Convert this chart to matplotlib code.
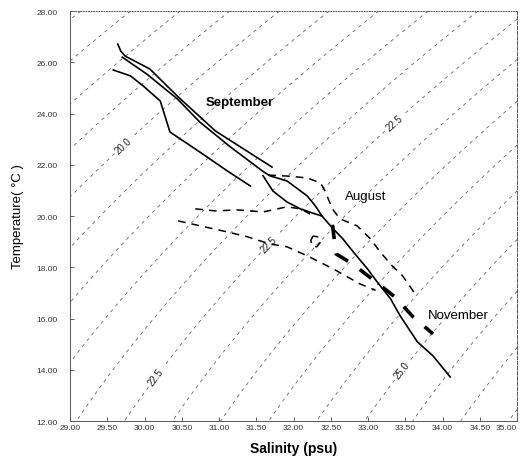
import numpy as np
import matplotlib.pyplot as plt

plt.rcParams['font.family'] = ['Liberation Sans', 'DejaVu Sans']

# September (solid lines)
sep1_s = [29.64, 29.68, 29.74, 30.07, 30.45, 30.95, 31.71]
sep1_t = [26.71, 26.44, 26.24, 25.74, 24.65, 23.32, 21.91]

sep2_s = [29.70, 30.03, 30.44, 30.74, 31.15, 31.58, 31.68, 31.91, 32.18,
          32.29, 32.38, 32.53, 32.66, 32.80, 32.99, 33.12, 33.30, 33.43,
          33.66, 33.87, 34.10]
sep2_t = [26.20, 25.54, 24.57, 23.67, 22.70, 21.76, 21.57, 21.37, 20.79,
          20.40, 20.00, 19.50, 19.11, 18.60, 17.94, 17.43, 16.77, 16.10,
          15.09, 14.54, 13.72]

sep2b_s = [31.59, 31.72, 31.91, 32.09, 32.25, 32.38]
sep2b_t = [21.57, 20.98, 20.55, 20.28, 20.12, 20.00]

sep3_s = [29.58, 29.81, 29.98, 30.21, 30.34, 30.74, 31.11, 31.42]
sep3_t = [25.70, 25.47, 25.08, 24.49, 23.28, 22.50, 21.76, 21.17]

# August (dashed lines)
aug1_s = [31.66, 31.91, 32.18, 32.36, 32.42, 32.52, 32.62, 32.85, 33.03,
          33.16, 33.32, 33.46, 33.64]
aug1_t = [21.60, 21.56, 21.49, 21.29, 20.98, 20.28, 19.89, 19.62, 19.11,
          18.60, 18.06, 17.67, 16.92]

aug2_s = [30.68, 30.95, 31.24, 31.59, 31.91, 32.09, 32.22]
aug2_t = [20.28, 20.20, 20.24, 20.16, 20.36, 20.28, 20.08]

aug3_s = [30.45, 30.74, 31.11, 31.38, 31.68, 31.91, 32.18, 32.53, 32.89,
          33.10]
aug3_t = [19.81, 19.62, 19.38, 19.19, 18.91, 18.80, 18.45, 17.94, 17.35,
          17.10]

loop_s = [32.26, 32.23, 32.25, 32.31, 32.36, 32.34, 32.26]
loop_t = [19.22, 19.05, 18.82, 18.80, 18.98, 19.18, 19.22]

# November (thick dashed)
nov_s = [32.52, 32.57, 32.79, 33.05, 33.36, 33.60, 33.87]
nov_t = [19.66, 18.52, 18.13, 17.55, 16.84, 16.07, 15.40]

sal_ticks = np.arange(29.0, 35.01, 0.5)
temp_ticks = np.arange(12.0, 28.01, 2.0)
sigma_levels = [16.5, 17.0, 17.5, 18.0, 18.5, 19.0, 19.5, 20.5, 21.0, 21.5,
                22.0, 23.0, 23.5, 24.0, 24.5, 25.5, 26.0, 26.5, 27.0]
label_levels = [20.0, 22.5, 25.0]
label_pos = [(29.74, 22.7), (31.68, 18.9), (33.36, 23.6), (30.02, 14.0),
             (33.45, 14.0)]


def sigma_t(s, t):
    rho_w = (999.842594 + 6.793952e-2 * t - 9.095290e-3 * t ** 2
             + 1.001685e-4 * t ** 3 - 1.120083e-6 * t ** 4
             + 6.536332e-9 * t ** 5)
    a = (0.824493 - 4.0899e-3 * t + 7.6438e-5 * t ** 2
         - 8.2467e-7 * t ** 3 + 5.3875e-9 * t ** 4)
    b = -5.72466e-3 + 1.0227e-4 * t - 1.6546e-6 * t ** 2
    return rho_w + a * s + b * s ** 1.5 + 4.8314e-4 * s ** 2 - 1000.0


fig = plt.figure(figsize=(5.23, 4.64), dpi=100)
ax = fig.add_axes([0.134, 0.0905, 0.855, 0.8835])

ss, tt = np.meshgrid(np.linspace(29, 35, 200), np.linspace(12, 28, 200))
sig = sigma_t(ss, tt)
dash = [(0, (4, 5))]
ax.contour(ss, tt, sig, levels=sigma_levels, colors='#666666',
           linewidths=0.6, linestyles=dash)
cs = ax.contour(ss, tt, sig, levels=label_levels, colors='#666666',
                linewidths=0.6, linestyles=dash)
ax.clabel(cs, manual=label_pos, fmt='%.1f', fontsize=7, inline=True,
          inline_spacing=3, colors='#222222')

for s, t in [(sep1_s, sep1_t), (sep2_s, sep2_t), (sep2b_s, sep2b_t),
             (sep3_s, sep3_t)]:
    ax.plot(s, t, color='black', lw=1.2)

for s, t in [(aug1_s, aug1_t), (aug2_s, aug2_t), (aug3_s, aug3_t),
             (loop_s, loop_t)]:
    ax.plot(s, t, color='black', lw=1.1, dashes=(5, 4))

ax.plot(nov_s, nov_t, color='black', lw=2.6, dashes=(4, 4))

ax.text(31.28, 24.45, 'September', fontsize=9.5, fontweight='bold',
        ha='center', va='center')
ax.text(32.97, 20.78, 'August', fontsize=9.5, ha='center', va='center')
ax.text(34.21, 16.14, 'November', fontsize=9.5, ha='center', va='center')

ax.set_xlim(29, 35)
ax.set_ylim(12, 28)
ax.set_xticks(sal_ticks)
ax.set_yticks(temp_ticks)
ax.set_xticklabels(['%.2f' % v for v in sal_ticks])
ax.set_yticklabels(['%.2f' % v for v in temp_ticks])
ax.get_xticklabels()[-1].set_horizontalalignment('right')
ax.tick_params(labelsize=6, labelcolor='#333333', direction='in',
               length=3, width=0.6, color='#444444')
ax.tick_params(axis='y', pad=9)
ax.tick_params(axis='x', pad=2)
for side in ax.spines:
    ax.spines[side].set_linewidth(0.7)
    ax.spines[side].set_color('#555555')
ax.spines['top'].set_linestyle(':')
ax.spines['right'].set_linestyle('--')

ax.set_xlabel('Salinity (psu)', fontsize=10, fontweight='bold', labelpad=7)
ax.set_ylabel('Temperature( °C )', fontsize=9.5, labelpad=9)

fig.savefig('out.png', dpi=100)
